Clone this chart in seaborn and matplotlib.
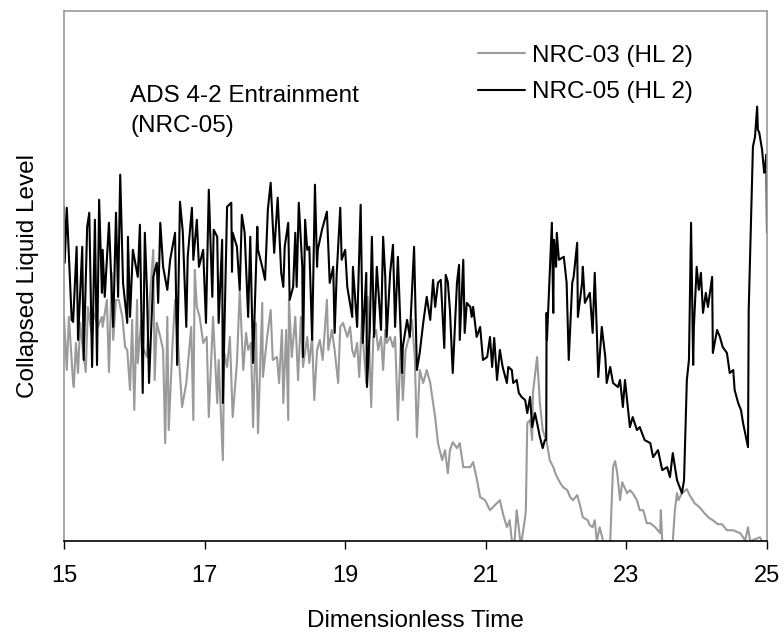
import matplotlib
matplotlib.use("Agg")
import matplotlib.pyplot as plt
import seaborn as sns
import pandas as pd

# NRC-05 (HL 2), black trace
t05 = [15.00, 15.01, 15.04, 15.11, 15.13, 15.18, 15.20, 15.26, 15.28, 15.33, 15.36, 15.40, 15.44, 15.47, 15.50,
       15.54, 15.55, 15.58, 15.64, 15.70, 15.74, 15.77, 15.80, 15.84, 15.90, 15.91, 15.94, 15.98, 16.05, 16.08,
       16.12, 16.15, 16.18, 16.21, 16.27, 16.32, 16.34, 16.37, 16.41, 16.47, 16.51, 16.58, 16.61, 16.65, 16.69,
       16.74, 16.76, 16.82, 16.84, 16.89, 16.92, 16.98, 17.02, 17.06, 17.11, 17.13, 17.18, 17.20, 17.25, 17.26,
       17.32, 17.38, 17.39, 17.40, 17.46, 17.50, 17.53, 17.57, 17.62, 17.65, 17.69, 17.75, 17.76, 17.82, 17.86,
       17.90, 17.94, 17.99, 18.04, 18.09, 18.12, 18.14, 18.19, 18.21, 18.26, 18.29, 18.31, 18.34, 18.39, 18.40,
       18.43, 18.46, 18.49, 18.53, 18.57, 18.60, 18.61, 18.67, 18.74, 18.78, 18.83, 18.85, 18.88, 18.93, 18.95,
       19.00, 19.03, 19.10, 19.11, 19.17, 19.22, 19.25, 19.30, 19.31, 19.35, 19.38, 19.41, 19.45, 19.51, 19.54,
       19.57, 19.59, 19.64, 19.68, 19.71, 19.75, 19.81, 19.82, 19.88, 19.92, 19.98, 20.02, 20.06, 20.11, 20.16,
       20.21, 20.25, 20.28, 20.32, 20.36, 20.41, 20.43, 20.46, 20.49, 20.53, 20.59, 20.62, 20.63, 20.68, 20.70,
       20.73, 20.78, 20.80, 20.82, 20.87, 20.92, 20.96, 21.02, 21.06, 21.09, 21.12, 21.16, 21.20, 21.24, 21.30,
       21.32, 21.37, 21.39, 21.44, 21.47, 21.51, 21.56, 21.59, 21.63, 21.66, 21.70, 21.73, 21.77, 21.81, 21.84,
       21.86, 21.865, 21.87, 21.90, 21.94, 21.96, 21.97, 22.00, 22.01, 22.04, 22.11, 22.15, 22.18, 22.23, 22.25,
       22.30, 22.31, 22.37, 22.38, 22.41, 22.48, 22.52, 22.55, 22.58, 22.60, 22.65, 22.70, 22.72, 22.77, 22.81,
       22.88, 22.91, 22.95, 22.98, 23.05, 23.09, 23.15, 23.19, 23.26, 23.34, 23.38, 23.45, 23.51, 23.58, 23.62,
       23.66, 23.72, 23.79, 23.82, 23.86, 23.89, 23.92, 23.95, 23.96, 24.00, 24.03, 24.06, 24.09, 24.13, 24.16,
       24.22, 24.23, 24.29, 24.33, 24.37, 24.43, 24.47, 24.52, 24.54, 24.59, 24.63, 24.66, 24.73, 24.74, 24.80,
       24.83, 24.86, 24.87, 24.89, 24.93, 24.96, 24.97, 24.99, 25.00]
lvl05 = [334, 278, 333, 221, 219, 294, 201, 294, 181, 314, 328, 174, 321, 176, 341,
         248, 291, 244, 318, 214, 328, 244, 366, 258, 218, 304, 224, 291, 264, 316,
         148, 308, 251, 158, 264, 278, 238, 318, 274, 251, 281, 308, 176, 339, 309,
         214, 284, 333, 281, 321, 274, 291, 218, 351, 244, 311, 304, 218, 301, 138,
         334, 338, 269, 308, 294, 251, 326, 308, 224, 304, 178, 314, 291, 274, 261,
         331, 358, 288, 343, 268, 254, 294, 318, 241, 254, 308, 254, 338, 274, 184,
         321, 291, 294, 201, 356, 274, 291, 311, 329, 258, 274, 208, 268, 333, 281,
         291, 254, 224, 274, 214, 336, 198, 268, 154, 211, 304, 204, 274, 211, 304,
         264, 204, 268, 296, 214, 284, 168, 194, 221, 204, 294, 171, 188, 218, 244,
         221, 261, 234, 258, 261, 193, 266, 259, 231, 168, 258, 276, 201, 281, 208,
         238, 234, 224, 234, 204, 214, 181, 184, 204, 174, 203, 161, 191, 174, 158,
         174, 171, 158, 161, 148, 144, 141, 128, 144, 114, 128, 118, 104, 93, 101,
         101, 228, 201, 251, 318, 228, 301, 274, 308, 281, 284, 258, 181, 258, 264,
         298, 224, 258, 274, 238, 248, 208, 268, 208, 164, 214, 184, 158, 174, 158,
         154, 161, 134, 161, 114, 124, 111, 114, 101, 98, 84, 91, 71, 74, 64,
         88, 61, 48, 61, 161, 181, 318, 176, 214, 274, 251, 268, 228, 248, 234,
         264, 188, 211, 204, 194, 188, 168, 171, 151, 138, 131, 118, 94, 231, 394,
         404, 434, 411, 408, 391, 368, 371, 386, 308]

# NRC-03 (HL 2), grey trace
t03 = [15.00, 15.04, 15.07, 15.13, 15.14, 15.17, 15.20, 15.23, 15.27, 15.31, 15.34, 15.40, 15.41, 15.48, 15.54,
       15.55, 15.61, 15.64, 15.68, 15.70, 15.74, 15.78, 15.83, 15.87, 15.90, 15.94, 15.97, 16.00, 16.04, 16.05,
       16.10, 16.12, 16.18, 16.22, 16.27, 16.29, 16.32, 16.37, 16.41, 16.44, 16.47, 16.49, 16.54, 16.58, 16.61,
       16.68, 16.74, 16.81, 16.84, 16.86, 16.89, 16.93, 16.98, 17.03, 17.06, 17.12, 17.18, 17.20, 17.26, 17.28,
       17.32, 17.36, 17.40, 17.46, 17.50, 17.55, 17.59, 17.62, 17.66, 17.69, 17.73, 17.76, 17.82, 17.83, 17.89,
       17.94, 17.97, 18.03, 18.06, 18.10, 18.12, 18.16, 18.19, 18.20, 18.24, 18.29, 18.33, 18.37, 18.40, 18.46,
       18.49, 18.53, 18.56, 18.60, 18.64, 18.68, 18.74, 18.76, 18.81, 18.85, 18.90, 18.93, 18.97, 19.03, 19.07,
       19.10, 19.13, 19.17, 19.20, 19.24, 19.25, 19.30, 19.32, 19.37, 19.40, 19.44, 19.47, 19.51, 19.54, 19.57,
       19.59, 19.64, 19.68, 19.71, 19.75, 19.79, 19.82, 19.86, 19.91, 19.95, 19.99, 20.02, 20.06, 20.11, 20.16,
       20.21, 20.25, 20.28, 20.32, 20.38, 20.42, 20.46, 20.49, 20.53, 20.59, 20.63, 20.68, 20.78, 20.82, 20.87,
       20.92, 20.99, 21.06, 21.13, 21.20, 21.25, 21.30, 21.34, 21.37, 21.41, 21.44, 21.49, 21.51, 21.56, 21.57,
       21.59, 21.63, 21.66, 21.67, 21.73, 21.77, 21.81, 21.87, 21.91, 21.96, 22.00, 22.06, 22.10, 22.16, 22.20,
       22.24, 22.30, 22.34, 22.38, 22.45, 22.48, 22.52, 22.55, 22.58, 22.62, 22.67, 22.77, 22.81, 22.84, 22.87,
       22.91, 22.94, 23.01, 23.05, 23.09, 23.15, 23.19, 23.24, 23.29, 23.34, 23.41, 23.48, 23.49, 23.51, 23.66,
       23.69, 23.72, 23.74, 23.79, 23.86, 23.90, 23.97, 24.04, 24.11, 24.18, 24.23, 24.30, 24.36, 24.43, 24.52,
       24.62, 24.69, 24.73, 24.76, 24.90, 24.93, 25.00]
lvl03 = [224, 171, 224, 158, 154, 198, 168, 218, 191, 169, 234, 204, 231, 214, 224,
         214, 241, 169, 268, 201, 241, 241, 224, 194, 191, 151, 221, 131, 241, 178,
         221, 194, 184, 241, 291, 161, 218, 204, 191, 98, 224, 111, 191, 241, 211,
         134, 158, 214, 121, 271, 234, 224, 198, 204, 124, 224, 138, 181, 81, 188,
         174, 204, 124, 178, 251, 171, 208, 191, 198, 114, 218, 108, 238, 164, 204,
         231, 181, 184, 158, 211, 138, 211, 121, 241, 184, 224, 161, 224, 174, 204,
         178, 204, 141, 191, 201, 181, 241, 191, 211, 191, 158, 214, 218, 204, 214,
         191, 184, 198, 164, 224, 204, 158, 244, 134, 204, 211, 191, 204, 171, 211,
         198, 204, 194, 204, 121, 198, 141, 191, 204, 221, 184, 104, 171, 158, 171,
         158, 138, 124, 98, 81, 91, 68, 91, 99, 93, 98, 74, 74, 79, 63,
         44, 41, 31, 36, 41, 26, 14, 21, 1, 0, 31, 1, 0, 24, 31,
         118, 121, 101, 148, 184, 138, 111, 98, 81, 74, 66, 58, 54, 51, 44,
         41, 46, 36, 24, 21, 16, 14, 21, 0, 14, 0, 0, 74, 80, 68,
         41, 59, 48, 51, 48, 41, 31, 31, 18, 18, 14, 8, 31, 0, 0,
         31, 48, 41, 48, 52, 46, 38, 34, 28, 23, 21, 17, 17, 11, 11,
         8, 1, 14, 0, 4, 0, 0]

series_names = ["NRC-03 (HL 2)", "NRC-05 (HL 2)"]
x_ticks = [15, 17, 19, 21, 23, 25]

df = pd.concat([
    pd.DataFrame({"time": t03, "level": lvl03, "run": series_names[0]}),
    pd.DataFrame({"time": t05, "level": lvl05, "run": series_names[1]}),
], ignore_index=True)

sns.set_theme(style="white")
plt.rcParams["font.family"] = ["Liberation Sans", "DejaVu Sans"]
plt.rcParams["text.color"] = "black"
plt.rcParams["axes.labelcolor"] = "black"
plt.rcParams["xtick.color"] = "black"
fs = 17.5

fig = plt.figure(figsize=(7.84, 6.36), dpi=100)
ax = fig.add_axes([0.0816, 0.149, 0.8967, 0.833])

sns.lineplot(data=df, x="time", y="level", hue="run", hue_order=series_names,
             palette={series_names[0]: "#9a9a9a", series_names[1]: "black"},
             estimator=None, sort=False, linewidth=1.5, ax=ax)

ax.set_xlim(15, 25)
ax.set_ylim(0, 529)
ax.set_xticks(x_ticks)
ax.set_xticklabels([str(v) for v in x_ticks], fontsize=17)
ax.set_yticks([])
ax.tick_params(axis="x", direction="out", length=6, width=1, color="black", bottom=True, pad=11)
ax.set_xlabel("Dimensionless Time", fontsize=fs, labelpad=17)
ax.set_ylabel("Collapsed Liquid Level", fontsize=fs, labelpad=18)

for side in ["left", "top", "right"]:
    ax.spines[side].set_color("#999999")
    ax.spines[side].set_linewidth(1.2)
ax.spines["bottom"].set_color("black")
ax.spines["bottom"].set_linewidth(1.2)

ax.text(0.094, 0.861, "ADS 4-2 Entrainment\n(NRC-05)", transform=ax.transAxes,
        fontsize=fs, va="top", ha="left", linespacing=1.46)

ax.legend(title=None, frameon=False, loc="upper left", bbox_to_anchor=(0.589, 0.9376),
          borderaxespad=0, borderpad=0, fontsize=fs, handlelength=1.93,
          handletextpad=0.28, labelspacing=0.6)

fig.savefig("out.png", dpi=100)
